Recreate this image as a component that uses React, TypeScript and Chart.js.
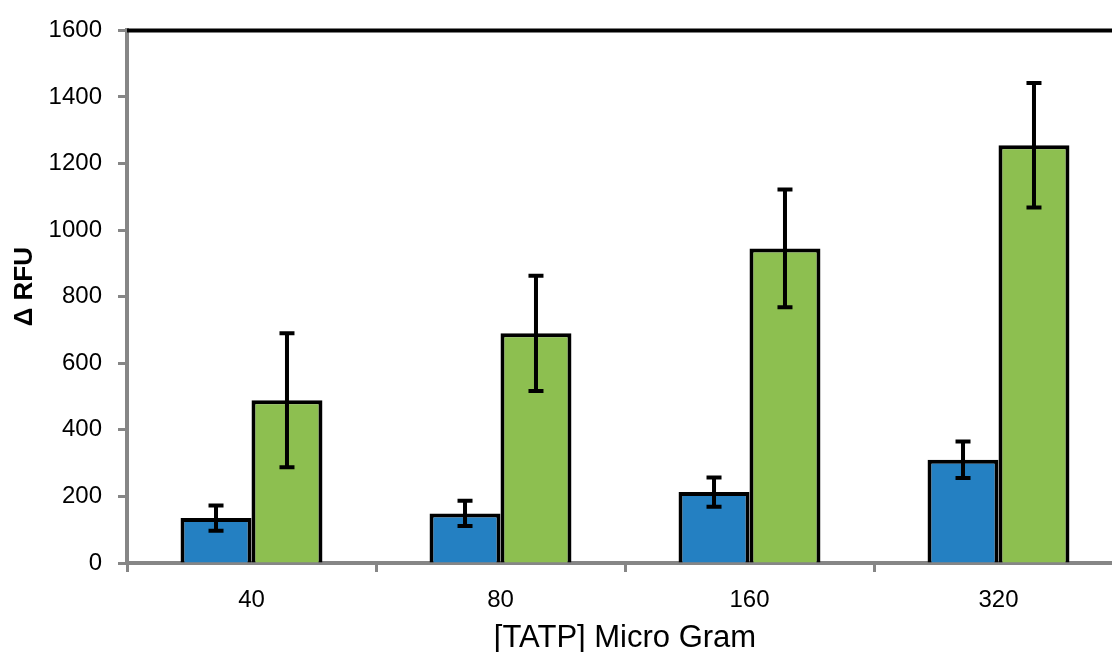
import React, { useEffect, useRef } from "react";
import { Chart, registerables } from "chart.js";

Chart.register(...registerables);

const categories = ["40", "80", "160", "320"];
const seriesBlue = [135, 149, 213, 310];
const errorsBlue = [38, 38, 44, 55];
const seriesGreen = [489, 690, 945, 1255];
const errorsGreen = [201, 173, 177, 187];
const yMin = 0;
const yMax = 1600;
const yStep = 200;
const yTitle = "Δ RFU";
const xTitle = "[TATP] Micro Gram";

const CANVAS_W = 1123;
const CANVAS_H = 680;
const AXIS_GRAY = "#868686";
const FONT = "'Liberation Sans', Arial, Helvetica, sans-serif";

const errorBarPlugin = {
  id: "errorBars",
  afterDatasetsDraw(chart: any) {
    const ctx = chart.ctx;
    const y = chart.scales.y;
    ctx.save();
    ctx.strokeStyle = "#000";
    ctx.lineWidth = 4;
    ctx.lineCap = "butt";
    chart.data.datasets.forEach((ds: any, i: number) => {
      const meta = chart.getDatasetMeta(i);
      const errs: number[] = ds.errors || [];
      meta.data.forEach((bar: any, j: number) => {
        const v = ds.data[j];
        const e = errs[j];
        if (e == null) return;
        const top = y.getPixelForValue(v + e);
        const bot = y.getPixelForValue(v - e);
        const x = bar.x;
        const cap = 7.5;
        ctx.beginPath();
        ctx.moveTo(x, top);
        ctx.lineTo(x, bot);
        ctx.moveTo(x - cap, top);
        ctx.lineTo(x + cap, top);
        ctx.moveTo(x - cap, bot);
        ctx.lineTo(x + cap, bot);
        ctx.stroke();
      });
    });
    const a = chart.chartArea;
    ctx.beginPath();
    ctx.lineWidth = 4;
    ctx.moveTo(a.left, a.top);
    ctx.lineTo(a.right, a.top);
    ctx.stroke();

    // y-axis title (positioned slightly above the plot centre, as in the reference)
    ctx.translate(25, (a.top + a.bottom) / 2 - 10);
    ctx.rotate(-Math.PI / 2);
    ctx.fillStyle = "#000";
    ctx.font = `bold 26px ${FONT}`;
    ctx.textAlign = "center";
    ctx.textBaseline = "middle";
    ctx.fillText(yTitle, 0, 0);
    ctx.restore();
  },
};

export default function App() {
  const ref = useRef<HTMLCanvasElement | null>(null);

  useEffect(() => {
    if (!ref.current) return;
    const chart = new Chart(ref.current, {
      type: "bar",
      data: {
        labels: categories,
        datasets: [
          {
            label: "A",
            data: seriesBlue,
            errors: errorsBlue,
            backgroundColor: "#2480C2",
            borderColor: "#000",
            borderWidth: 4,
            categoryPercentage: 0.57,
            barPercentage: 1,
          } as any,
          {
            label: "B",
            data: seriesGreen,
            errors: errorsGreen,
            backgroundColor: "#8DBF50",
            borderColor: "#000",
            borderWidth: 4,
            categoryPercentage: 0.57,
            barPercentage: 1,
          } as any,
        ],
      },
      options: {
        responsive: false,
        animation: false,
        layout: { padding: { top: 30, left: 0, right: 0, bottom: 0 } },
        plugins: {
          legend: { display: false },
          tooltip: { enabled: false },
        },
        scales: {
          x: {
            type: "category",
            grid: {
              offset: true,
              drawOnChartArea: false,
              drawTicks: true,
              tickLength: 9,
              tickColor: AXIS_GRAY,
              tickWidth: 3,
            },
            border: { color: AXIS_GRAY, width: 4 },
            ticks: {
              color: "#000",
              font: { family: FONT, size: 24 },
              padding: 14,
              maxRotation: 0,
            },
            title: {
              display: true,
              text: xTitle,
              color: "#000",
              font: { family: FONT, size: 31 },
              padding: { top: 0, bottom: 23 },
            },
            afterFit(scale: any) {
              scale.height = CANVAS_H - 563;
            },
          },
          y: {
            min: yMin,
            max: yMax,
            grid: {
              drawOnChartArea: false,
              drawTicks: true,
              tickLength: 9,
              tickColor: AXIS_GRAY,
              tickWidth: 3,
            },
            border: { color: AXIS_GRAY, width: 4 },
            ticks: {
              stepSize: yStep,
              color: "#000",
              font: { family: FONT, size: 24 },
              padding: 16,
              callback: (v: any) => String(v),
            },
            title: { display: false },
            afterFit(scale: any) {
              scale.width = 127;
            },
          },
        },
      },
      plugins: [errorBarPlugin],
    } as any);
    return () => chart.destroy();
  }, []);

  return (
    <div
      style={{
        position: "fixed",
        left: 0,
        top: 0,
        width: 1112,
        height: 652,
        overflow: "hidden",
        background: "#fff",
      }}
    >
      <canvas
        ref={ref}
        width={CANVAS_W}
        height={CANVAS_H}
        style={{ width: CANVAS_W, height: CANVAS_H, display: "block" }}
      />
    </div>
  );
}
